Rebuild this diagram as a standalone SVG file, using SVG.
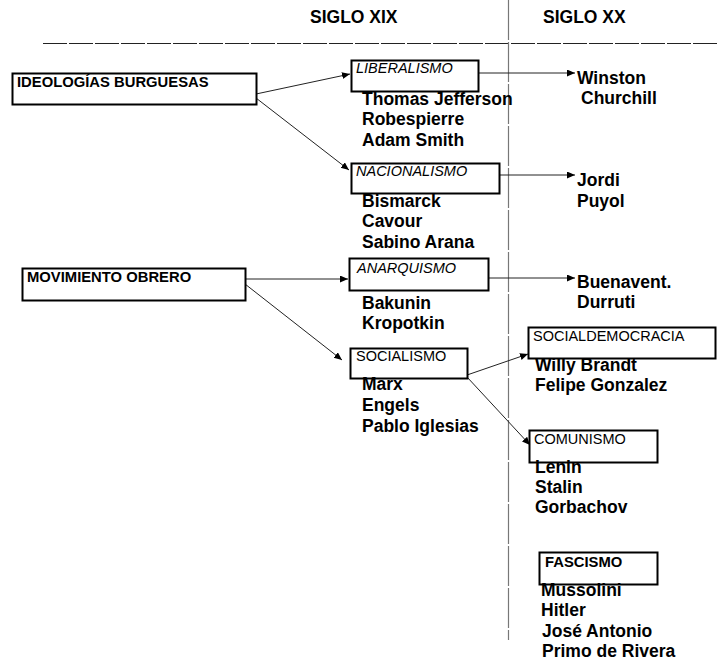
<svg xmlns="http://www.w3.org/2000/svg" width="717" height="662" viewBox="0 0 717 662">
<style>
.box{fill:none;stroke:#000;stroke-width:2}
.hdr{font-family:"Liberation Sans",Arial,sans-serif;font-weight:bold;font-size:17.5px;fill:#000}
.grp{font-family:"Liberation Sans",Arial,sans-serif;font-weight:bold;font-size:14.8px;fill:#000}
.lab{font-family:"Liberation Sans",Arial,sans-serif;font-size:14.5px;fill:#000}
.it{font-style:italic}
.nm{font-family:"Liberation Sans",Arial,sans-serif;font-weight:bold;font-size:17.5px;fill:#000}
.con{fill:none;stroke:#222;stroke-width:1;marker-end:url(#ah)}
</style>
<defs>
<marker id="ah" markerUnits="userSpaceOnUse" markerWidth="9" markerHeight="8" refX="8" refY="3.5" orient="auto">
<path d="M0,0 L8,3.5 L0,7 z" fill="#000"/>
</marker>
</defs>
<rect width="717" height="662" fill="#fff"/>
<g id="frame">
<line x1="43" y1="43.5" x2="717" y2="43.5" stroke="#222" stroke-width="1" stroke-dasharray="24,2"/>
<line x1="508.5" y1="0" x2="508.5" y2="640" stroke="#777" stroke-width="1.2" stroke-dasharray="40,2"/>
<text class="hdr" x="310" y="23">SIGLO XIX</text>
<text class="hdr" x="543" y="23">SIGLO XX</text>
</g>
<g id="connectors">
<line class="con" x1="256" y1="94" x2="350" y2="74"/>
<line class="con" x1="256" y1="98" x2="349" y2="170"/>
<line class="con" x1="478" y1="73" x2="575" y2="73"/>
<line class="con" x1="499" y1="175" x2="575" y2="175"/>
<line class="con" x1="245" y1="279" x2="348" y2="279"/>
<line class="con" x1="245" y1="284" x2="342" y2="360"/>
<line class="con" x1="488" y1="278" x2="575" y2="278"/>
<line class="con" x1="467" y1="375" x2="528" y2="354"/>
<line class="con" x1="467" y1="377" x2="530" y2="445"/>
</g>
<g id="ideologias">
<rect class="box" x="12.5" y="73.5" width="244" height="31"/>
<text class="grp" x="17" y="87">IDEOLOGÍAS BURGUESAS</text>
</g>
<g id="movimiento">
<rect class="box" x="22.5" y="268.5" width="223" height="32"/>
<text class="grp" x="27" y="282">MOVIMIENTO OBRERO</text>
</g>
<g id="liberalismo">
<rect class="box" x="351.5" y="60.5" width="127" height="31"/>
<text class="lab it" x="356" y="73">LIBERALISMO</text>
<text class="nm" x="362" y="105">Thomas Jefferson</text>
<text class="nm" x="362" y="125">Robespierre</text>
<text class="nm" x="362" y="146">Adam Smith</text>
</g>
<g id="nacionalismo">
<rect class="box" x="351.5" y="163.5" width="148" height="30"/>
<text class="lab it" x="356" y="176">NACIONALISMO</text>
<text class="nm" x="362" y="207">Bismarck</text>
<text class="nm" x="362" y="227">Cavour</text>
<text class="nm" x="362" y="248">Sabino Arana</text>
</g>
<g id="anarquismo">
<rect class="box" x="349.5" y="258.5" width="139" height="32"/>
<text class="lab it" x="357" y="273">ANARQUISMO</text>
<text class="nm" x="362" y="309">Bakunin</text>
<text class="nm" x="362" y="329">Kropotkin</text>
</g>
<g id="socialismo">
<rect class="box" x="350.5" y="348.5" width="117" height="30"/>
<text class="lab" x="356" y="361">SOCIALISMO</text>
<text class="nm" x="362" y="390">Marx</text>
<text class="nm" x="362" y="411">Engels</text>
<text class="nm" x="362" y="432">Pablo Iglesias</text>
</g>
<g id="churchill">
<text class="nm" x="577" y="84">Winston</text>
<text class="nm" x="581" y="104">Churchill</text>
</g>
<g id="pujol">
<text class="nm" x="577" y="186">Jordi</text>
<text class="nm" x="577" y="207">Puyol</text>
</g>
<g id="durruti">
<text class="nm" x="577" y="288">Buenavent.</text>
<text class="nm" x="577" y="308">Durruti</text>
</g>
<g id="socialdemocracia">
<rect class="box" x="528.5" y="327.5" width="187" height="31"/>
<text class="lab" x="533" y="341">SOCIALDEMOCRACIA</text>
<text class="nm" x="535" y="371">Willy Brandt</text>
<text class="nm" x="535" y="391">Felipe Gonzalez</text>
</g>
<g id="comunismo">
<rect class="box" x="529.5" y="430.5" width="128" height="32"/>
<text class="lab" x="534" y="444">COMUNISMO</text>
<text class="nm" x="535" y="473">Lenin</text>
<text class="nm" x="535" y="493">Stalin</text>
<text class="nm" x="535" y="513">Gorbachov</text>
</g>
<g id="fascismo">
<rect class="box" x="539.5" y="552.5" width="118" height="32"/>
<text class="grp" x="545" y="567">FASCISMO</text>
<text class="nm" x="541" y="596">Mussolini</text>
<text class="nm" x="541" y="616">Hitler</text>
<text class="nm" x="542" y="637">José Antonio</text>
<text class="nm" x="542" y="657">Primo de Rivera</text>
</g>
</svg>
